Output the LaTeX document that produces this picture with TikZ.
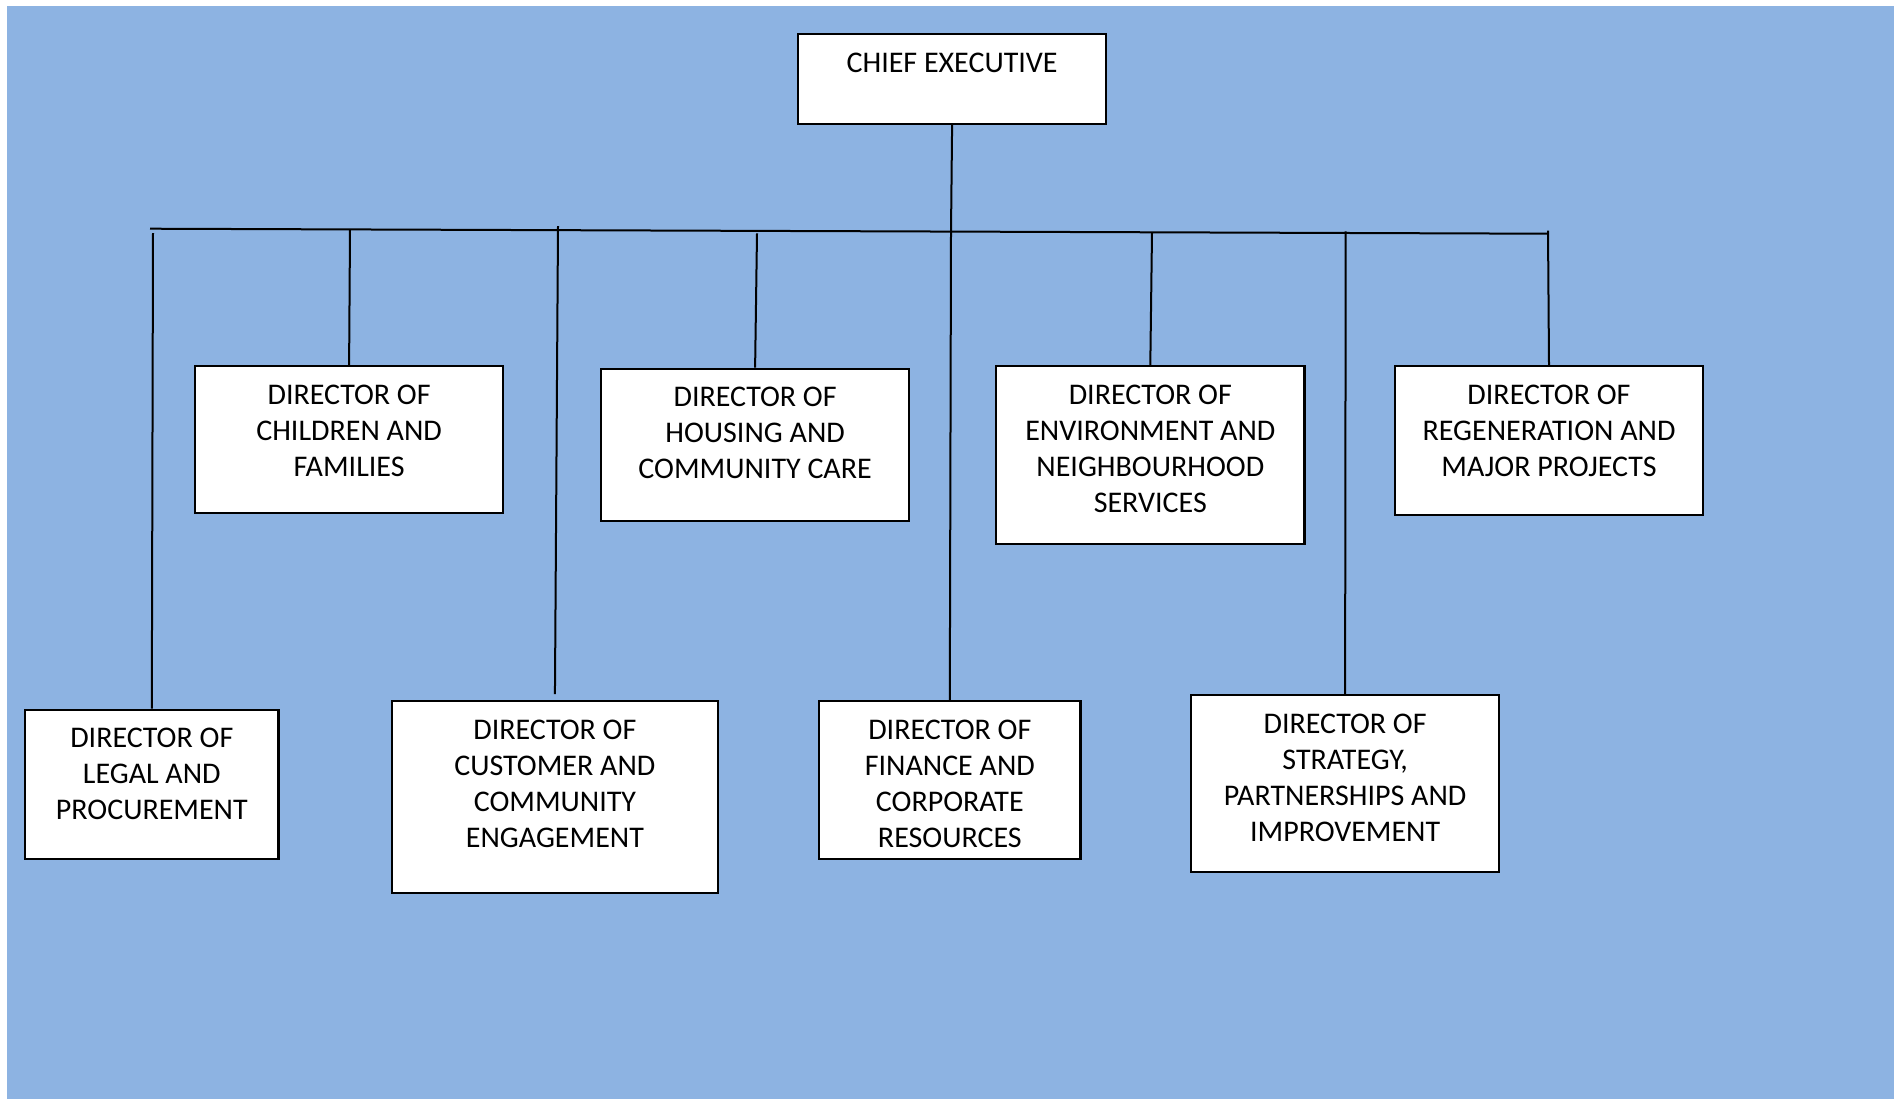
\documentclass[tikz,border=0pt]{standalone}
\usepackage{fontspec}
\setmainfont{Carlito}
\usepackage{tikz}
\definecolor{sky}{RGB}{141,179,226}
\newcommand{\boxtxt}[3]{\parbox[c][#2][t]{#1}{\centering\rule{0pt}{19pt}#3}}
\tikzset{
  post/.style={draw=black, fill=white, line width=1.1pt, inner sep=0pt, anchor=north west,
    font=\fontsize{15}{18}\selectfont},
  link/.style={line width=1pt}
}

\begin{document}
\begin{tikzpicture}[x=0.5pt,y=-0.5pt]
    \useasboundingbox (0,0) rectangle (1894,1099);
    \fill[sky] (7,6) rectangle (1894,1099);

    \node[post] (chief) at (797,33) {\boxtxt{154pt}{45pt}{CHIEF EXECUTIVE}};
    \node[post] (children) at (194,365) {\boxtxt{154pt}{73.5pt}{DIRECTOR OF\\CHILDREN AND\\FAMILIES}};
    \node[post] (housing) at (600,367.7) {\boxtxt{154pt}{76.2pt}{DIRECTOR OF\\HOUSING AND\\COMMUNITY CARE}};
    \node[post] (environment) at (995,365) {\boxtxt{154.2pt}{88.8pt}{DIRECTOR OF\\ENVIRONMENT AND\\NEIGHBOURHOOD\\SERVICES}};
    \node[post] (regeneration) at (1393.7,365) {\boxtxt{154.2pt}{74.5pt}{DIRECTOR OF\\REGENERATION AND\\MAJOR PROJECTS}};
    \node[post] (legal) at (24,708.7) {\boxtxt{126.7pt}{74.5pt}{DIRECTOR OF\\LEGAL AND\\PROCUREMENT}};
    \node[post] (customer) at (391,700) {\boxtxt{162.8pt}{95.8pt}{DIRECTOR OF\\CUSTOMER AND\\COMMUNITY\\ENGAGEMENT}};
    \node[post] (finance) at (818,700) {\boxtxt{130.7pt}{78.8pt}{DIRECTOR OF\\FINANCE AND\\CORPORATE\\RESOURCES}};
    \node[post] (strategy) at (1190,694) {\boxtxt{154pt}{88.3pt}{DIRECTOR OF\\STRATEGY,\\PARTNERSHIPS AND\\IMPROVEMENT}};

    \coordinate (barL) at (150,228.7);
    \coordinate (barR) at (1548,233.7);
    \coordinate (hub) at (951,231.6);
    \coordinate (t-legal) at (153,233);
    \coordinate (t-children) at (350,229.4);
    \coordinate (t-customer) at (558,226);
    \coordinate (t-housing) at (757,233.3);
    \coordinate (t-environment) at (1152,232.3);
    \coordinate (t-strategy) at (1345.7,231.3);
    \coordinate (t-regeneration) at (1548,230.7);

    \draw[link] (barL) -- (barR);
    \draw[link] (chief.south) -- (hub);
    \draw[link] (hub) -- (finance.north);
    \draw[link] (t-legal) -- (legal.north);
    \draw[link] (t-children) -- (children.north);
    \draw[link, shorten >=3pt] (t-customer) -- (customer.north);
    \draw[link] (t-housing) -- (housing.north);
    \draw[link] (t-environment) -- (environment.north);
    \draw[link] (t-strategy) -- (strategy.north);
    \draw[link] (t-regeneration) -- (regeneration.north);
\end{tikzpicture}
\end{document}
